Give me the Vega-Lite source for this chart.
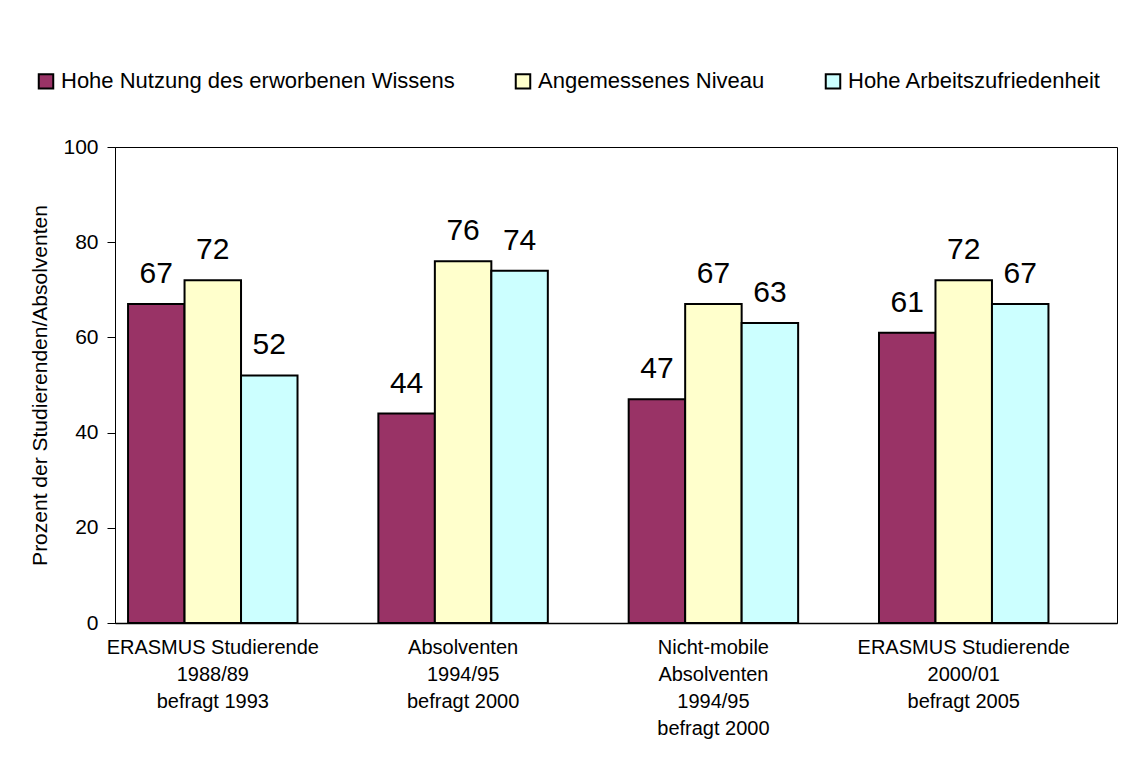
{
  "$schema": "https://vega.github.io/schema/vega-lite/v6.json",
  "width": 1002,
  "height": 476,
  "autosize": {"type": "none"},
  "padding": {"left": 115, "top": 147, "right": 17, "bottom": 146},
  "background": "white",
  "config": {
    "font": "Liberation Sans",
    "view": {"stroke": "black", "strokeWidth": 1}
  },
  "data": {
    "values": [
      {"gruppe": "ERASMUS Studierende|1988/89|befragt 1993", "serie": "Hohe Nutzung des erworbenen Wissens", "wert": 67},
      {"gruppe": "ERASMUS Studierende|1988/89|befragt 1993", "serie": "Angemessenes Niveau", "wert": 72},
      {"gruppe": "ERASMUS Studierende|1988/89|befragt 1993", "serie": "Hohe Arbeitszufriedenheit", "wert": 52},
      {"gruppe": "Absolventen|1994/95|befragt 2000", "serie": "Hohe Nutzung des erworbenen Wissens", "wert": 44},
      {"gruppe": "Absolventen|1994/95|befragt 2000", "serie": "Angemessenes Niveau", "wert": 76},
      {"gruppe": "Absolventen|1994/95|befragt 2000", "serie": "Hohe Arbeitszufriedenheit", "wert": 74},
      {"gruppe": "Nicht-mobile|Absolventen|1994/95|befragt 2000", "serie": "Hohe Nutzung des erworbenen Wissens", "wert": 47},
      {"gruppe": "Nicht-mobile|Absolventen|1994/95|befragt 2000", "serie": "Angemessenes Niveau", "wert": 67},
      {"gruppe": "Nicht-mobile|Absolventen|1994/95|befragt 2000", "serie": "Hohe Arbeitszufriedenheit", "wert": 63},
      {"gruppe": "ERASMUS Studierende|2000/01|befragt 2005", "serie": "Hohe Nutzung des erworbenen Wissens", "wert": 61},
      {"gruppe": "ERASMUS Studierende|2000/01|befragt 2005", "serie": "Angemessenes Niveau", "wert": 72},
      {"gruppe": "ERASMUS Studierende|2000/01|befragt 2005", "serie": "Hohe Arbeitszufriedenheit", "wert": 67}
    ]
  },
  "encoding": {
    "x": {
      "field": "gruppe",
      "type": "nominal",
      "sort": null,
      "scale": {"paddingInner": 0.323, "paddingOuter": 0.163, "align": 0.16},
      "axis": {
        "title": null,
        "labelExpr": "split(datum.label, '|')",
        "labelAngle": 0,
        "labelFontSize": 20,
        "labelLineHeight": 27,
        "labelColor": "black",
        "labelPadding": 14,
        "labelBaseline": "top",
        "labelLimit": 400,
        "ticks": false,
        "domainColor": "black",
        "domainWidth": 1.5
      }
    },
    "xOffset": {
      "field": "serie",
      "type": "nominal",
      "sort": ["Hohe Nutzung des erworbenen Wissens", "Angemessenes Niveau", "Hohe Arbeitszufriedenheit"],
      "scale": {"paddingInner": 0, "paddingOuter": 0}
    },
    "y": {
      "field": "wert",
      "type": "quantitative",
      "scale": {"domain": [0, 100]},
      "axis": {
        "title": "Prozent der Studierenden/Absolventen",
        "titleFontSize": 21,
        "titleFontWeight": "normal",
        "titleColor": "black",
        "titlePadding": 12,
        "values": [0, 20, 40, 60, 80, 100],
        "grid": false,
        "tickSize": 8,
        "tickColor": "black",
        "domainColor": "black",
        "labelFontSize": 21,
        "labelColor": "black",
        "labelPadding": 9
      }
    }
  },
  "layer": [
    {
      "mark": {"type": "bar", "stroke": "black", "strokeWidth": 2},
      "encoding": {
        "color": {
          "field": "serie",
          "type": "nominal",
          "sort": ["Hohe Nutzung des erworbenen Wissens", "Angemessenes Niveau", "Hohe Arbeitszufriedenheit"],
          "scale": {
            "domain": ["Hohe Nutzung des erworbenen Wissens", "Angemessenes Niveau", "Hohe Arbeitszufriedenheit"],
            "range": ["#993366", "#FFFFCC", "#CCFFFF"]
          },
          "legend": {
            "title": null,
            "orient": "none",
            "direction": "horizontal",
            "legendX": -80,
            "legendY": -77,
            "columnPadding": 56,
            "symbolType": "square",
            "symbolSize": 210,
            "symbolStrokeWidth": 2,
            "symbolStrokeColor": "black",
            "symbolOpacity": 1,
            "labelFontSize": 22,
            "labelColor": "black",
            "labelLimit": 600,
            "labelOffset": 4,
            "padding": 0
          }
        }
      }
    },
    {
      "mark": {"type": "text", "dy": -21, "baseline": "alphabetic", "fontSize": 30, "color": "black"},
      "encoding": {"text": {"field": "wert", "type": "quantitative"}}
    }
  ]
}
